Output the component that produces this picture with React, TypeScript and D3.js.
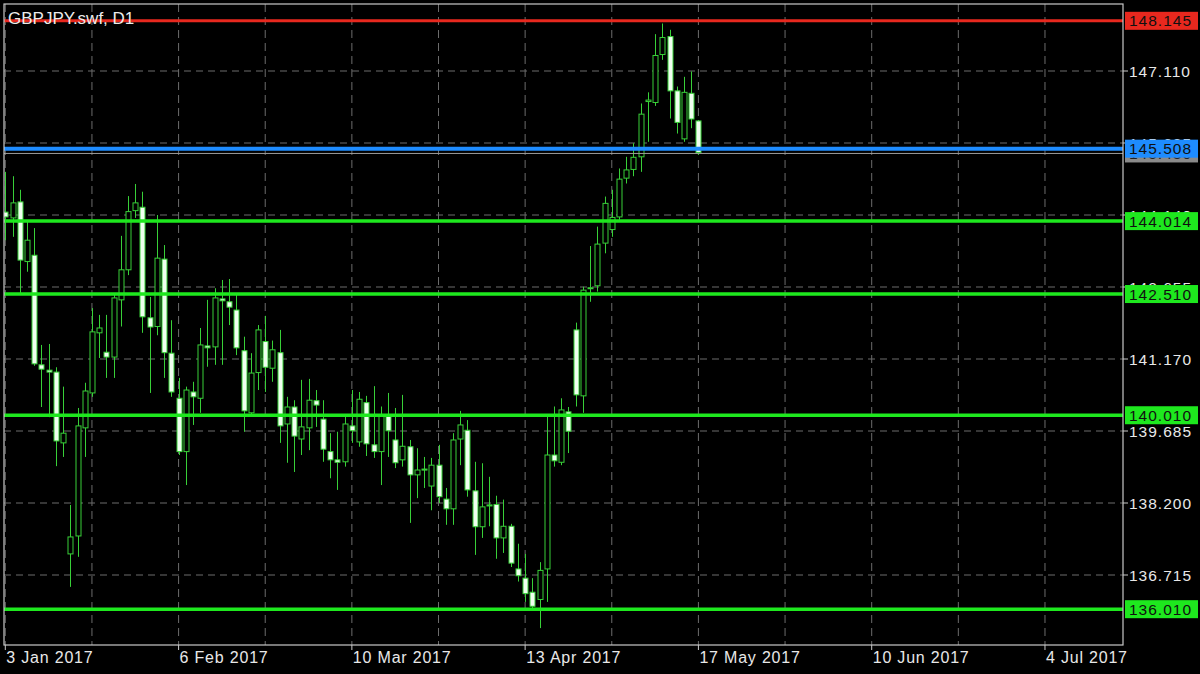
import React from "react";
import * as d3 from "d3";

const symbolTitle = "GBPJPY.swf, D1";

// Daily OHLC, first bar = 3 Jan 2017, last bar = 17 May 2017
const opens = [144.20,144.08,144.41,143.18,143.31,141.05,140.94,140.90,139.44,137.15,137.52,139.75,140.47,141.71,141.31,141.21,142.39,143.01,144.23,144.30,142.02,141.84,143.23,141.29,140.36,139.26,140.49,140.36,141.44,141.42,142.41,142.35,142.18,141.34,140.06,140.89,141.53,140.98,141.30,139.83,140.18,139.52,139.75,140.31,139.93,139.26,139.09,139.05,139.79,139.46,140.27,139.40,139.26,139.99,139.50,139.09,139.36,138.78,138.90,138.55,138.98,138.28,138.08,139.52,139.70,138.45,137.71,138.16,138.17,137.48,137.72,136.84,136.65,136.36,136.21,136.84,139.19,139.04,140.08,141.77,140.41,142.63,142.68,143.56,143.84,144.10,144.90,145.08,145.34,146.48,146.46,147.45,147.82,146.70,145.71,146.65,146.08];
const highs = [145.03,144.94,144.66,144.00,143.87,141.46,141.48,141.00,140.60,138.16,140.16,140.68,142.22,142.08,142.08,142.49,143.71,144.53,144.78,144.62,142.45,144.14,143.52,141.97,140.78,140.60,140.70,141.81,142.39,142.63,142.80,142.82,142.49,141.63,141.29,141.87,142.06,141.55,141.77,140.39,140.32,140.74,140.76,140.53,140.32,139.64,139.67,139.98,140.53,140.49,140.41,140.61,140.19,140.47,140.16,140.43,139.50,139.33,139.15,139.13,139.40,138.51,139.64,140.10,139.91,139.05,139.02,138.74,138.35,138.27,137.77,137.36,137.15,136.65,136.98,140.01,140.19,140.36,140.18,141.92,142.66,143.50,143.90,144.52,144.66,145.10,145.34,145.62,146.44,146.67,147.87,148.09,147.96,146.79,146.99,147.10,146.10];
const lows = [143.62,143.69,142.53,142.97,141.03,140.18,139.97,138.96,139.15,136.47,137.09,139.15,140.39,141.19,140.78,140.78,141.84,142.90,144.08,141.71,140.47,141.66,140.78,140.39,139.19,138.57,139.81,140.06,141.01,141.05,141.05,141.87,141.25,139.67,139.98,140.53,140.49,140.70,139.44,139.03,138.84,139.19,139.29,139.77,139.05,138.71,138.47,138.95,139.44,139.36,139.17,139.13,138.57,139.15,138.92,138.95,137.79,138.30,138.51,138.05,138.20,137.75,137.75,138.98,138.33,137.13,137.48,137.72,137.05,137.17,136.88,136.58,136.16,135.99,135.62,136.16,138.95,138.98,139.23,140.19,140.06,142.35,142.56,143.35,143.69,144.04,144.79,144.94,145.03,145.65,146.39,147.34,146.13,145.82,145.65,145.93,145.38];
const closes = [144.10,144.39,143.21,143.62,141.07,140.96,140.90,139.48,139.64,137.50,139.79,140.51,141.73,141.81,141.21,142.43,143.01,144.21,144.39,142.04,141.83,143.25,141.30,140.49,139.26,140.53,140.39,141.46,141.40,142.43,142.37,142.24,141.40,140.10,140.88,141.77,141.00,141.36,139.79,140.18,139.58,139.77,140.32,140.22,139.31,139.09,139.04,139.83,139.69,140.34,139.42,139.26,140.01,139.69,139.03,139.37,138.78,138.88,138.88,138.98,138.33,138.08,139.50,139.81,138.47,137.71,138.12,138.14,137.48,137.72,136.96,136.70,136.33,136.07,136.81,139.19,139.07,140.12,139.68,140.43,142.59,142.64,143.54,144.38,144.09,144.88,145.07,145.33,146.22,146.51,147.43,147.80,146.70,146.05,146.67,146.12,145.43];

// Price grid / axis ticks
const priceTicks = [136.715, 138.200, 139.685, 141.170, 142.655, 144.140, 145.625, 147.110];

// Time axis labels (bar index from first bar)
const dateLabels = ["3 Jan 2017", "6 Feb 2017", "10 Mar 2017", "13 Apr 2017", "17 May 2017", "10 Jun 2017", "4 Jul 2017"];
const dateBars = [0, 24, 48, 72, 96, 120, 144];
const gridBarStep = 12;

// Horizontal levels
const levelPrices = [148.145, 145.508, 144.014, 142.510, 140.010, 136.010];
const levelLabels = ["148.145", "145.508", "144.014", "142.510", "140.010", "136.010"];
const levelColors = ["#e8281e", "#1e8cff", "#1ee81e", "#1ee81e", "#1ee81e", "#1ee81e"];

export default function App() {
  const W = 1200, H = 674;
  const left = 4, right = 1123, top = 4, bottom = 645;

  const y = d3.scaleLinear().domain([136.715, 147.110]).range([575, 71]);
  const x = d3.scaleLinear().domain([0, 12]).range([5.3, 5.3 + 12 * 7.22]);

  const n = opens.length;
  const bodyW = 5;
  const font = "'Liberation Sans', Arial, Helvetica, sans-serif";
  const gridColor = "#6c6c6c";
  const candleGreen = "#38d038";

  const gridXs: number[] = [];
  for (let i = 0; x(i) < right; i += gridBarStep) gridXs.push(x(i));

  const bid = closes[n - 1];

  return (
    <svg width={W} height={H} style={{ position: "fixed", left: 0, top: 0, background: "#000" }}>
      <rect x={0} y={0} width={W} height={H} fill="#000" />
      <defs>
        <clipPath id="plot">
          <rect x={left} y={top} width={right - left} height={bottom - top} />
        </clipPath>
      </defs>

      {/* grid */}
      <g clipPath="url(#plot)">
        {priceTicks.map((p, i) => (
          <line key={"h" + i} x1={left} x2={right} y1={y(p)} y2={y(p)} stroke={gridColor} strokeWidth={1} strokeDasharray="7,5" />
        ))}
        {gridXs.map((gx, i) => (
          <line key={"v" + i} x1={gx} x2={gx} y1={top} y2={bottom} stroke={gridColor} strokeWidth={1} strokeDasharray="8,5" />
        ))}
      </g>

      {/* candles */}
      <g clipPath="url(#plot)">
        {opens.map((o, i) => {
          const c = closes[i];
          const cx = Math.round(x(i)) + 0.5;
          const bull = c >= o;
          const yTop = y(Math.max(o, c));
          const yBot = y(Math.min(o, c));
          const h = Math.max(1, yBot - yTop);
          return (
            <g key={"c" + i}>
              <line x1={cx} x2={cx} y1={y(highs[i])} y2={y(lows[i])} stroke={candleGreen} strokeWidth={1} />
              <rect x={cx - bodyW / 2} y={yTop} width={bodyW} height={h}
                fill={bull ? "#000" : "#f0fff0"} stroke={candleGreen} strokeWidth={1} />
            </g>
          );
        })}
      </g>

      {/* bid line */}
      <line x1={left} x2={right} y1={y(bid) + 1} y2={y(bid) + 1} stroke="#9a9a9a" strokeWidth={1} />

      {/* level lines */}
      {levelPrices.map((p, i) => (
        <line key={"l" + i} x1={left} x2={right} y1={y(p)} y2={y(p)} stroke={levelColors[i]}
          strokeWidth={i === 0 ? 3 : i === 1 ? 4 : 3.5} />
      ))}

      {/* border */}
      <rect x={left} y={top} width={right - left} height={bottom - top} fill="none" stroke="#c8c8c8" strokeWidth={1.2} />

      {/* right axis tick labels */}
      {priceTicks.map((p, i) => (
        <g key={"t" + i}>
          <line x1={right} x2={right + 5} y1={y(p)} y2={y(p)} stroke="#c8c8c8" strokeWidth={1} />
          <text x={1129} y={y(p)} dy="0.36em" fill="#e8e8e8" fontSize={15.5} fontFamily={font} letterSpacing={1}>
            {p.toFixed(3)}
          </text>
        </g>
      ))}

      {/* bid label (gray) */}
      <rect x={1125} y={y(bid) - 8} width={73} height={18} fill="#8a8a8a" />
      <text x={1129} y={y(bid) + 1} dy="0.36em" fill="#222" fontSize={15.5} fontFamily={font} letterSpacing={1}>
        {bid.toFixed(3)}
      </text>

      {/* level labels */}
      {levelPrices.map((p, i) => (
        <g key={"ll" + i}>
          <rect x={1125} y={y(p) - 9} width={73} height={18} fill={levelColors[i]} />
          <text x={1129} y={y(p)} dy="0.36em" fill="#101010" fontSize={15.5} fontFamily={font} letterSpacing={1}>
            {levelLabels[i]}
          </text>
        </g>
      ))}

      {/* time axis */}
      {dateBars.map((b, i) => (
        <g key={"d" + i}>
          <line x1={x(b)} x2={x(b)} y1={bottom} y2={bottom + 5} stroke="#c8c8c8" strokeWidth={1} />
          <text x={x(b) + 1} y={663} fill="#e8e8e8" fontSize={16} fontFamily={font} letterSpacing={0.8}>
            {dateLabels[i]}
          </text>
        </g>
      ))}

      {/* title */}
      <text x={8} y={23.5} fill="#ececec" fontSize={17} fontFamily={font}>{symbolTitle}</text>
    </svg>
  );
}
